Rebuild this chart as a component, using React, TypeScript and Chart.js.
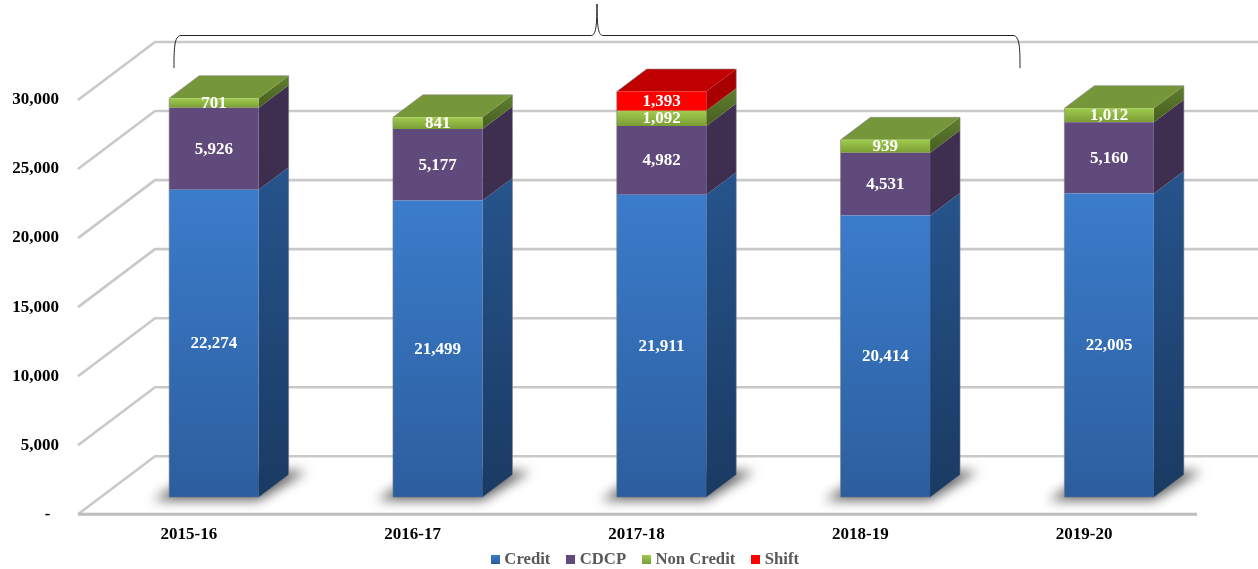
import React, { useEffect, useRef } from "react";
import { Chart, registerables } from "chart.js";

Chart.register(...registerables);

const categories = ["2015-16", "2016-17", "2017-18", "2018-19", "2019-20"];
const credit = [22274, 21499, 21911, 20414, 22005];
const cdcp = [5926, 5177, 4982, 4531, 5160];
const nonCredit = [701, 841, 1092, 939, 1012];
const shift = [null, null, 1393, null, null];
const seriesNames = ["Credit", "CDCP", "Non Credit", "Shift"];
const seriesValues: (number | null)[][] = [credit, cdcp, nonCredit, shift];

const FONT = "'Liberation Serif', serif";
const W = 1258;
const H = 569;
const DX = 30; // depth of a bar
const DY = -22.5;
const FLOOR_DX = 77; // depth of the plot box
const FLOOR_DY = -58;
const AXIS_DROP = 17; // the front axis sits below the bars' baseline
const AXIS_LEFT = 78;
const AXIS_RIGHT = 1197;

const frontStops = [
  ["#3b7ccb", "#2c5e9e"],
  ["#604a7b", "#604a7b"],
  ["#a0cb4e", "#7b9d35"],
  ["#ff0000", "#ff0000"],
];
const sideStops = [
  ["#26548c", "#1a3a62"],
  ["#3f3052", "#3d2e50"],
  ["#627f2e", "#465e20"],
  ["#a60000", "#a60000"],
];
const topColors = ["#2f66a8", "#4f3d68", "#76963a", "#c00000"];

function lowerSum(seriesIndex: number, i: number) {
  let s = 0;
  for (let k = 0; k < seriesIndex; k++) s += seriesValues[k][i] ?? 0;
  return s;
}

function marker(colors: string[]) {
  const c = document.createElement("canvas");
  c.width = 9;
  c.height = 9;
  const g = c.getContext("2d")!;
  const grad = g.createLinearGradient(0, 0, 0, 9);
  grad.addColorStop(0, colors[0]);
  grad.addColorStop(1, colors[1]);
  g.fillStyle = grad;
  g.fillRect(0, 0, 9, 9);
  return c;
}

function poly(ctx: CanvasRenderingContext2D, pts: number[][]) {
  ctx.beginPath();
  pts.forEach((p, i) => (i ? ctx.lineTo(p[0], p[1]) : ctx.moveTo(p[0], p[1])));
  ctx.closePath();
}

function topSeriesOf(i: number) {
  let top = 0;
  seriesValues.forEach((v, k) => {
    if (v[i] != null) top = k;
  });
  return top;
}

const scenePlugin = {
  id: "scene",
  afterLayout(chart: any) {
    if (chart.legend) {
      chart.legend.left += 36.5;
      chart.legend.right += 36.5;
      chart.legend.top = 531;
    }
    chart.scales.x.bottom = H;
  },
  beforeDatasetsDraw(chart: any) {
    const ctx: CanvasRenderingContext2D = chart.ctx;
    const y = chart.scales.y;
    ctx.save();
    ctx.lineCap = "butt";
    y.ticks.forEach((t: any) => {
      const fy = y.getPixelForValue(t.value) + AXIS_DROP;
      ctx.strokeStyle = "#c9c9c9";
      ctx.lineWidth = 2.6;
      ctx.beginPath();
      ctx.moveTo(AXIS_LEFT, fy);
      ctx.lineTo(AXIS_LEFT + FLOOR_DX, fy + FLOOR_DY);
      ctx.lineTo(W, fy + FLOOR_DY);
      ctx.stroke();
      if (t.value === 0) {
        ctx.strokeStyle = "#bdbdbd";
        ctx.lineWidth = 3;
        ctx.beginPath();
        ctx.moveTo(AXIS_LEFT, fy);
        ctx.lineTo(AXIS_RIGHT, fy);
        ctx.stroke();
      }
    });

    const first = chart.getDatasetMeta(0).data;
    first.forEach((el: any) => {
      const l = el.x - el.width / 2;
      const r = el.x + el.width / 2;
      const b = el.base;
      ctx.save();
      ctx.filter = "blur(6px)";
      ctx.fillStyle = "rgba(0,0,0,0.62)";
      poly(ctx, [
        [l - 16, b + 3],
        [r, b + 3],
        [r + 48, b - 26],
        [l + 30, b - 26],
      ]);
      ctx.fill();
      ctx.restore();
    });

    categories.forEach((_, i) => {
      const topSeries = topSeriesOf(i);
      seriesValues.forEach((v, k) => {
        if (v[i] == null) return;
        const el = chart.getDatasetMeta(k).data[i];
        const r = el.x + el.width / 2;
        const l = el.x - el.width / 2;
        const grad = ctx.createLinearGradient(0, el.y + DY, 0, el.base);
        grad.addColorStop(0, sideStops[k][0]);
        grad.addColorStop(1, sideStops[k][1]);
        ctx.fillStyle = grad;
        poly(ctx, [
          [r, el.y],
          [r + DX, el.y + DY],
          [r + DX, el.base + DY],
          [r, el.base],
        ]);
        ctx.fill();
        if (k === topSeries) {
          ctx.fillStyle = topColors[k];
          poly(ctx, [
            [l, el.y],
            [l + DX, el.y + DY],
            [r + DX, el.y + DY],
            [r, el.y],
          ]);
          ctx.fill();
        }
      });
    });
    ctx.restore();
  },
  afterDatasetsDraw(chart: any) {
    const ctx: CanvasRenderingContext2D = chart.ctx;
    ctx.save();

    // faint edge round each column
    ctx.strokeStyle = "rgba(130,130,130,0.55)";
    ctx.lineWidth = 1;
    categories.forEach((_, i) => {
      const top = chart.getDatasetMeta(topSeriesOf(i)).data[i];
      const bottom = chart.getDatasetMeta(0).data[i];
      const l = top.x - top.width / 2;
      const r = top.x + top.width / 2;
      poly(ctx, [
        [l, bottom.base],
        [l, top.y],
        [l + DX, top.y + DY],
        [r + DX, top.y + DY],
        [r + DX, bottom.base + DY],
        [r, bottom.base],
      ]);
      ctx.stroke();
    });

    ctx.font = `bold 17px ${FONT}`;
    ctx.fillStyle = "#ffffff";
    ctx.textAlign = "center";
    ctx.textBaseline = "middle";
    seriesValues.forEach((v, k) => {
      v.forEach((val, i) => {
        if (val == null) return;
        const el = chart.getDatasetMeta(k).data[i];
        ctx.fillText(val.toLocaleString("en-US"), el.x, (el.y + el.base) / 2 + 0.5);
      });
    });

    // the brace over the first four years
    ctx.strokeStyle = "#222222";
    ctx.lineWidth = 1;
    ctx.beginPath();
    ctx.moveTo(174, 68);
    ctx.bezierCurveTo(174, 50, 174, 35.5, 181, 35.5);
    ctx.lineTo(591, 35.5);
    ctx.bezierCurveTo(595, 35.5, 597, 30, 597, 4);
    ctx.bezierCurveTo(597, 30, 599, 35.5, 603, 35.5);
    ctx.lineTo(1013, 35.5);
    ctx.bezierCurveTo(1020, 35.5, 1020, 50, 1020, 68);
    ctx.stroke();
    ctx.restore();
  },
};

export default function App() {
  const ref = useRef<HTMLCanvasElement>(null);
  useEffect(() => {
    document.body.style.margin = "0";
    const chart = new Chart(ref.current!, {
      type: "bar",
      plugins: [scenePlugin],
      data: {
        labels: categories,
        datasets: seriesNames.map((name, k) => ({
          label: name,
          data: seriesValues[k],
          barPercentage: 0.4,
          categoryPercentage: 1,
          backgroundColor: (c: any) => {
            const i = c.dataIndex ?? 0;
            const s = c.chart.scales.y;
            if (!s) return frontStops[k][0];
            const lo = lowerSum(k, i);
            const hi = lo + (seriesValues[k][i] ?? 0);
            const y0 = s.getPixelForValue(hi);
            const y1 = s.getPixelForValue(lo);
            if (!Number.isFinite(y0) || !Number.isFinite(y1)) return frontStops[k][0];
            const g = c.chart.ctx.createLinearGradient(0, y0, 0, y1);
            g.addColorStop(0, frontStops[k][0]);
            g.addColorStop(1, frontStops[k][1]);
            return g;
          },
        })),
      },
      options: {
        responsive: false,
        animation: false,
        events: [],
        layout: { padding: { top: 83, right: 37, left: 0, bottom: 0 } },
        plugins: {
          tooltip: { enabled: false },
          legend: {
            position: "bottom",
            labels: {
              usePointStyle: true,
              pointStyleWidth: 1,
              padding: 20,
              color: "#595959",
              font: { family: FONT, size: 16.7, weight: "bold" },
              generateLabels: (chart: any) =>
                Chart.defaults.plugins.legend.labels.generateLabels(chart).map((item: any, k: number) => ({
                  ...item,
                  pointStyle: marker(frontStops[k]),
                })),
            },
          },
        },
        scales: {
          x: {
            stacked: true,
            grid: { display: false },
            border: { display: false },
            afterFit: (s: any) => {
              s.height = 25;
            },
            ticks: {
              color: "#000000",
              padding: 19,
              labelOffset: -25,
              maxRotation: 0,
              autoSkip: false,
              font: { family: FONT, size: 17, weight: "bold" },
            },
          },
          y: {
            stacked: true,
            min: 0,
            max: 30000,
            grid: { display: false },
            border: { display: false },
            afterFit: (s: any) => {
              s.width = 102;
            },
            ticks: {
              stepSize: 5000,
              color: "#000000",
              padding: 35,
              labelOffset: AXIS_DROP,
              font: { family: FONT, size: 17, weight: "bold" },
              callback: (v: any) => (v === 0 ? "-  " : Number(v).toLocaleString("en-US")),
            },
          },
        },
      } as any,
    } as any);
    return () => chart.destroy();
  }, []);
  return (
    <canvas
      ref={ref}
      width={W}
      height={H}
      style={{ position: "absolute", left: 0, top: 0, display: "block" }}
    />
  );
}
